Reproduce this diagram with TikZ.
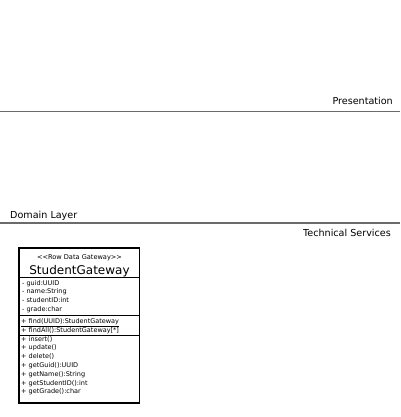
\documentclass[tikz,border=0pt]{standalone}
\usepackage{fontspec}
\setmainfont{DejaVu Sans}
\tikzset{
  layerline/.style={draw=black!58, line width=1.9pt},
  layerlabel/.style={inner sep=0pt, font=\fontsize{9.6}{11}\selectfont},
  classbox/.style={draw=black, line width=1.2pt},
  sepline/.style={line width=0.9pt},
  member/.style={inner sep=0pt, anchor=base west, font=\fontsize{6.5}{7.5}\selectfont},
}
\begin{document}
\begin{tikzpicture}[x=1pt,y=-1pt]
\useasboundingbox (0,0) rectangle (400,417);
% layer lines
\coordinate (l1a) at (0,111.5); \coordinate (l1b) at (400,111.5);
\coordinate (l2a) at (0,223.3); \coordinate (l2b) at (400,223.3);
\draw[layerline] (l1a) -- (l1b);
\draw[layerline] (l2a) -- (l2b);
\node[layerlabel, anchor=base east] (pres) at (393,105) {Presentation};
\node[layerlabel, anchor=base west] (dom) at (10,218) {Domain Layer};
\node[layerlabel, anchor=base east] (tech) at (391,236) {Technical Services};
% class box
\draw[classbox] (19,248) rectangle (139.5,403);
\draw[sepline] (19,277) -- (139.5,277);
\draw[sepline] (19,315.5) -- (139.5,315.5);
\draw[sepline] (19,335) -- (139.5,335);
\node[inner sep=0pt, anchor=base, font=\fontsize{6.6}{7.5}\selectfont] (stereo) at (79.5,259) {{<}{<}Row Data Gateway{>}{>}};
\node[inner sep=0pt, anchor=base, font=\fontsize{12}{14}\selectfont] (cname) at (79.5,274) {StudentGateway};
\node[member] (a1) at (22,285) {- guid:UUID};
\node[member] (a2) at (22,293.7) {- name:String};
\node[member] (a3) at (22,302.4) {- studentID:int};
\node[member] (a4) at (22,311.1) {- grade:char};
\node[member] (m1) at (21,323) {\underline{+ find(UUID):StudentGateway}};
\node[member] (m2) at (21,332) {+ findAll():StudentGateway[*]};
\node[member] (m3) at (21,341) {+ insert()};
\node[member] (m4) at (21,349.8) {+ update()};
\node[member] (m5) at (21,358.6) {+ delete()};
\node[member] (m6) at (21,367.4) {+ getGuid():UUID};
\node[member] (m7) at (21,376.2) {+ getName():String};
\node[member] (m8) at (21,385) {+ getStudentID():int};
\node[member] (m9) at (21,393.8) {+ getGrade():char};
\end{tikzpicture}
\end{document}
